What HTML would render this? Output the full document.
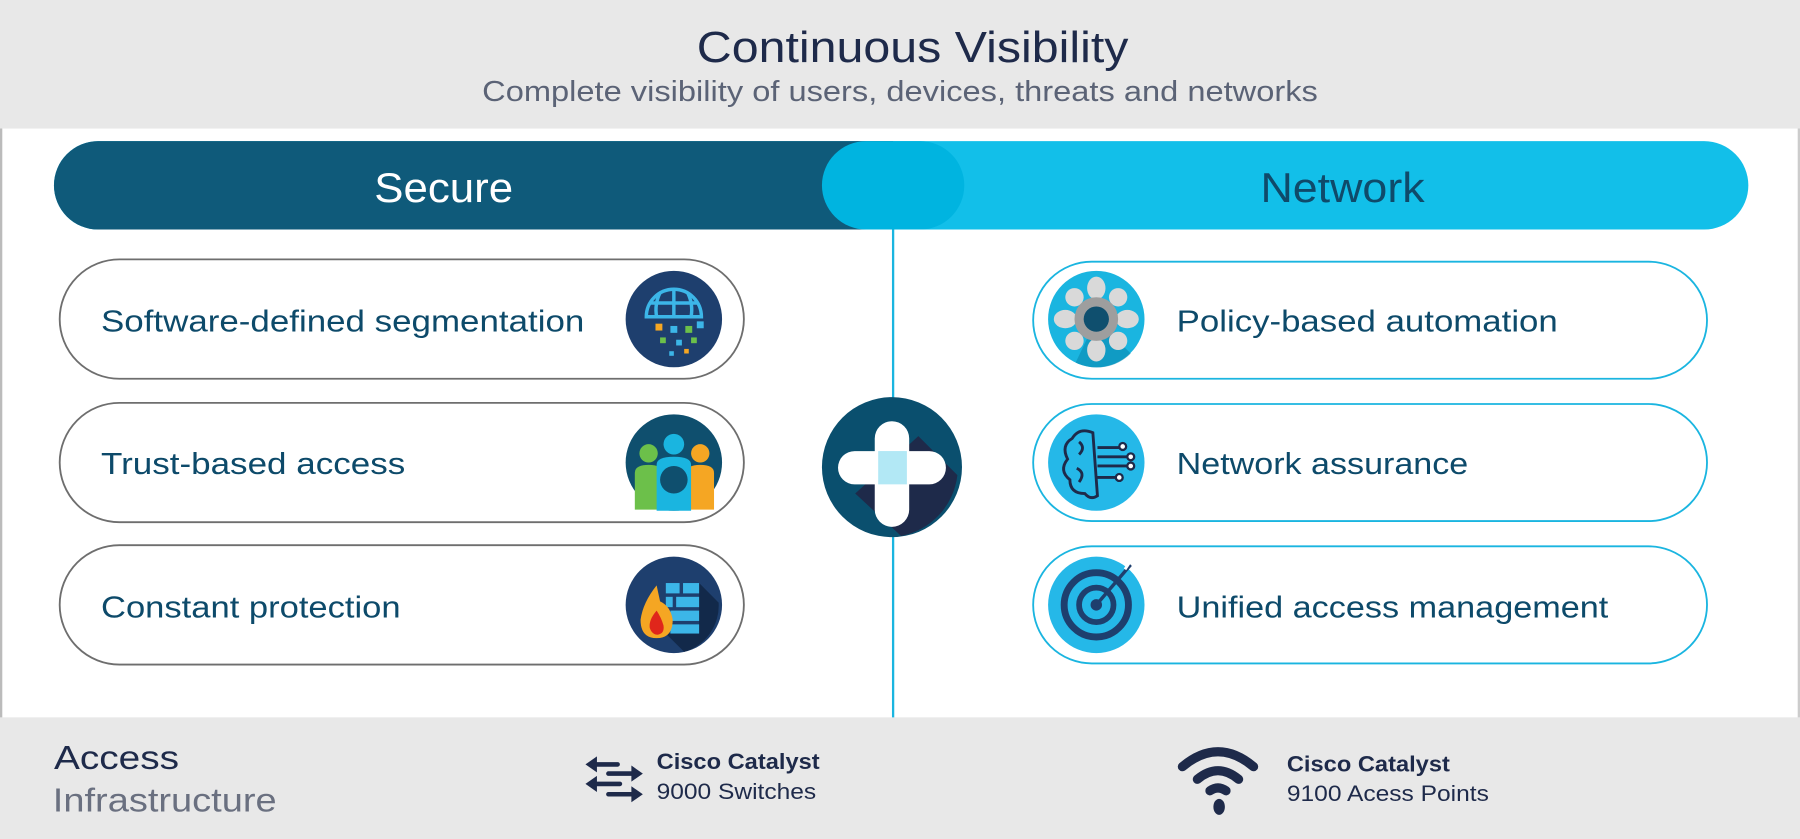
<!DOCTYPE html>
<html><head><meta charset="utf-8"><style>
html,body{margin:0;padding:0;background:#fff;overflow:hidden}
svg{display:block}
text{font-family:"Liberation Sans",Arial,sans-serif}
</style></head><body>
<svg width="1800" height="839" viewBox="0 0 1568 731" preserveAspectRatio="none" xmlns="http://www.w3.org/2000/svg">
<rect x="0" y="0" width="1568" height="731" fill="#fff"/>
<rect x="0" y="0" width="1568" height="112" fill="#e8e8e8"/>
<rect x="0" y="625" width="1568" height="106" fill="#e8e8e8"/>
<line x1="1" y1="112" x2="1" y2="625" stroke="#bbb" stroke-width="2"/>
<line x1="1567" y1="112" x2="1567" y2="625" stroke="#ccc" stroke-width="2"/>
<text x="607" y="54" font-size="38" fill="#1e2a4a" textLength="376" lengthAdjust="spacingAndGlyphs">Continuous Visibility</text>
<text x="420" y="88" font-size="25" fill="#5b6376" textLength="728" lengthAdjust="spacingAndGlyphs">Complete visibility of users, devices, threats and networks</text>

<!-- bar -->
<rect x="47" y="123" width="1476" height="77" rx="38.5" fill="#12bfe9"/>
<path d="M85.5 123 H778 V200 H85.5 A38.5 38.5 0 0 1 85.5 123 Z" fill="#0f5a7a"/>
<rect x="716" y="123" width="124" height="77" rx="38.5" fill="#00b4e0"/>
<text x="326" y="176" font-size="36" fill="#fff" textLength="121" lengthAdjust="spacingAndGlyphs">Secure</text>
<text x="1098" y="176" font-size="36" fill="#0f4a6a" textLength="143" lengthAdjust="spacingAndGlyphs">Network</text>
<line x1="778" y1="200" x2="778" y2="625" stroke="#1ab5e0" stroke-width="2"/>

<!-- left pills -->
<g fill="#fff" stroke="#6e6e6e" stroke-width="1.6">
<rect x="52" y="226" width="596" height="104" rx="52"/>
<rect x="52" y="351" width="596" height="104" rx="52"/>
<rect x="52" y="475" width="596" height="104" rx="52"/>
</g>
<g font-size="27" fill="#0d4a6a" lengthAdjust="spacingAndGlyphs">
<text x="88" y="289" textLength="421" lengthAdjust="spacingAndGlyphs">Software-defined segmentation</text>
<text x="88" y="413" textLength="265" lengthAdjust="spacingAndGlyphs">Trust-based access</text>
<text x="88" y="538" textLength="261" lengthAdjust="spacingAndGlyphs">Constant protection</text>
</g>
<!-- right pills -->
<g fill="#fff" stroke="#1ab5e0" stroke-width="1.6">
<rect x="900" y="228" width="587" height="102" rx="51"/>
<rect x="900" y="352" width="587" height="102" rx="51"/>
<rect x="900" y="476" width="587" height="102" rx="51"/>
</g>
<g font-size="27" fill="#0d4a6a">
<text x="1025" y="289" textLength="332" lengthAdjust="spacingAndGlyphs">Policy-based automation</text>
<text x="1025" y="413" textLength="254" lengthAdjust="spacingAndGlyphs">Network assurance</text>
<text x="1025" y="538" textLength="376" lengthAdjust="spacingAndGlyphs">Unified access management</text>
</g>

<!-- icon 1 globe -->
<circle cx="587" cy="278" r="42" fill="#1e3f6e"/>
<g stroke="#3cb6e8" stroke-width="3" fill="none">
<path d="M563 276 A24 24 0 0 1 611 276 Z"/>
<path d="M587 252 V276 M575 255 Q570 265 572 276 M599 255 Q604 265 602 276 M566 264 H608"/>
</g>
<g>
<rect x="571" y="282" width="6" height="6" fill="#f5a623"/><rect x="584" y="284" width="6" height="6" fill="#3cb6e8"/>
<rect x="597" y="284" width="6" height="6" fill="#6cc04a"/><rect x="607" y="280" width="6" height="6" fill="#3cb6e8"/>
<rect x="575" y="294" width="5" height="5" fill="#6cc04a"/><rect x="589" y="296" width="5" height="5" fill="#3cb6e8"/>
<rect x="602" y="294" width="5" height="5" fill="#6cc04a"/><rect x="583" y="306" width="4" height="4" fill="#3cb6e8"/><rect x="596" y="304" width="4" height="4" fill="#f5a623"/>
</g>
<!-- icon 2 people -->
<circle cx="587" cy="403" r="42" fill="#0f4f6e"/>
<circle cx="565" cy="395" r="8" fill="#6cc04a"/><path d="M553 444 V412 Q553 405 565 405 Q577 405 577 412 V444 Z" fill="#6cc04a"/>
<circle cx="610" cy="395" r="8" fill="#f5a623"/><path d="M598 444 V412 Q598 405 610 405 Q622 405 622 412 V444 Z" fill="#f5a623"/>
<circle cx="587" cy="387" r="9" fill="#1ab5e0"/><path d="M572 445 V405 Q572 398 587 398 Q602 398 602 405 V445 Z" fill="#1ab5e0"/>
<circle cx="587" cy="418" r="12" fill="#0f4f6e"/>
<!-- icon 3 firewall -->
<circle cx="587" cy="527" r="42" fill="#1e3f6e"/>
<path d="M609 508 L626 525 A42 42 0 0 1 596 568 L580 552 L609 552 Z" fill="#12294a"/>
<g fill="#3cb6e8"><rect x="580" y="508" width="12" height="9"/><rect x="595" y="508" width="14" height="9"/><rect x="580" y="520" width="6" height="9"/><rect x="589" y="520" width="20" height="9"/><rect x="584" y="532" width="25" height="9"/><rect x="584" y="544" width="25" height="8"/></g>
<path d="M572 510 Q560 525 558 540 Q558 556 572 556 Q586 556 586 540 Q584 528 575 524 Z" fill="#f5a623"/>
<path d="M572 532 Q565 540 566 547 Q568 553 573 553 Q579 552 578 545 Q576 538 572 532Z" fill="#e0261b"/>

<!-- right icons -->
<circle cx="955" cy="278" r="42" fill="#1ab5e0"/>
<path d="M955 278 L985 308 A42 42 0 0 1 937 316 Z" fill="#0a8bb0" opacity="0.6"/>
<g fill="#d9d9d9"><ellipse cx="955" cy="251" rx="8" ry="10"/><ellipse cx="955" cy="305" rx="8" ry="10"/><ellipse cx="928" cy="278" rx="10" ry="8"/><ellipse cx="982" cy="278" rx="10" ry="8"/>
<circle cx="936" cy="259" r="8"/><circle cx="974" cy="259" r="8"/><circle cx="936" cy="297" r="8"/><circle cx="974" cy="297" r="8"/></g>
<circle cx="955" cy="278" r="19" fill="#9e9e9e"/><circle cx="955" cy="278" r="11" fill="#0f4f6e"/>

<circle cx="955" cy="403" r="42" fill="#25b8e8"/>
<g stroke="#1e2a4a" stroke-width="2.5" fill="none">
<path d="M952 377 Q940 372 934 382 Q924 388 930 400 Q922 410 932 418 Q932 430 945 430 Q950 436 956 432 Z"/>
<path d="M940 385 Q946 390 940 396 M938 408 Q946 412 940 420 M956 390 H975 M956 398 H982 M956 406 H982 M956 416 H972"/>
</g>
<g fill="#fff" stroke="#1e2a4a" stroke-width="2"><circle cx="978" cy="389" r="3"/><circle cx="985" cy="398" r="3"/><circle cx="985" cy="406" r="3"/><circle cx="975" cy="416" r="3"/></g>

<circle cx="955" cy="527" r="42" fill="#25b8e8"/>
<circle cx="955" cy="527" r="28" fill="none" stroke="#1e3f6e" stroke-width="6"/>
<circle cx="955" cy="527" r="15" fill="none" stroke="#1e3f6e" stroke-width="5"/>
<circle cx="955" cy="527" r="5" fill="#1e3f6e"/>
<path d="M955 527 L985 492" stroke="#1e3f6e" stroke-width="3"/>
<path d="M985 492 L993 486 M980 496 L986 487" stroke="#fff" stroke-width="2.5"/>

<!-- center plus -->
<ellipse cx="777" cy="407" rx="61" ry="61" fill="#0a4f6e"/>
<path d="M800 380 L834 414 A61 61 0 0 1 785 467 L745 430 Z" fill="#1e2a4a"/>
<rect x="762" y="367" width="30" height="92" rx="15" fill="#fff"/>
<rect x="730" y="393" width="94" height="29" rx="14.5" fill="#fff"/>
<rect x="765" y="393" width="25" height="29" fill="#b2e8f5"/>

<!-- bottom -->
<text x="47" y="670" font-size="29" fill="#1e2a4a" textLength="109" lengthAdjust="spacingAndGlyphs">Access</text>
<text x="46" y="707" font-size="29" fill="#6a7080" textLength="195" lengthAdjust="spacingAndGlyphs">Infrastructure</text>
<g fill="#1e2a4a" stroke="#1e2a4a" stroke-width="4" stroke-linecap="round">
<path d="M518 666 H538 M530 674 H556 M518 683 H540 M530 692 H556"/>
</g>
<g fill="#1e2a4a"><path d="M510 666 L520 659 V673 Z M560 674 L550 667 V681 Z M510 683 L520 676 V690 Z M560 692 L550 685 V699 Z"/></g>
<text x="572" y="670" font-size="19" font-weight="bold" fill="#1e2a4a" textLength="142" lengthAdjust="spacingAndGlyphs">Cisco Catalyst</text>
<text x="572" y="696" font-size="19" fill="#1e2a4a" textLength="139" lengthAdjust="spacingAndGlyphs">9000 Switches</text>
<g fill="none" stroke="#1e2a4a" stroke-width="8" stroke-linecap="round">
<path d="M1030 668 Q1061 642 1092 668"/>
<path d="M1043 679 Q1061 664 1079 679"/>
<path d="M1054 689 Q1061 684 1068 689"/>
</g>
<ellipse cx="1062" cy="703" rx="5" ry="7" fill="#1e2a4a"/>
<text x="1121" y="672" font-size="19" font-weight="bold" fill="#1e2a4a" textLength="142" lengthAdjust="spacingAndGlyphs">Cisco Catalyst</text>
<text x="1121" y="698" font-size="19" fill="#1e2a4a" textLength="176" lengthAdjust="spacingAndGlyphs">9100 Acess Points</text>
</svg>
</body></html>
